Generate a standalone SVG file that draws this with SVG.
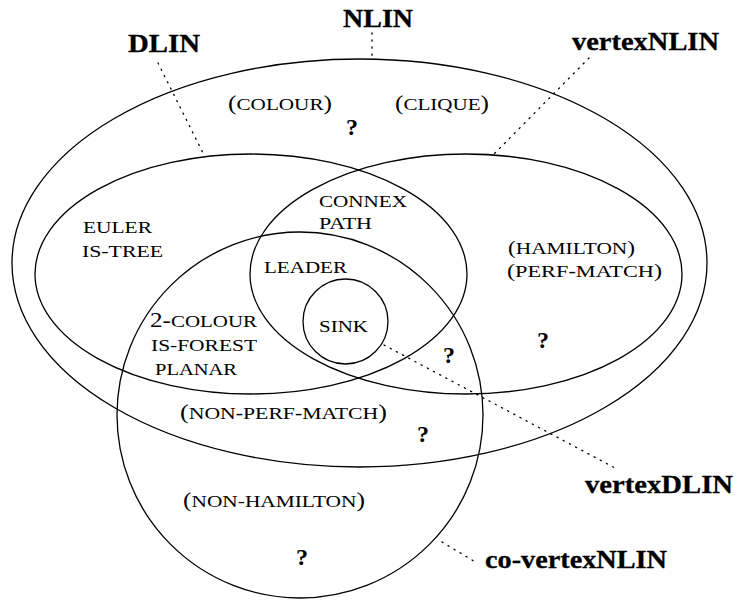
<svg xmlns="http://www.w3.org/2000/svg" width="735" height="600" viewBox="0 0 735 600">
<style>
  .set { fill: none; stroke: #000; stroke-width: 1.3; }
  .lead { fill: none; stroke: #000; stroke-width: 1.3; stroke-dasharray: 1.2 5.8; stroke-linecap: round; }
  .lab { font-family: "Liberation Serif", "Times New Roman", serif; font-weight: bold; font-size: 26px; fill: #000; stroke: #000; stroke-width: 0.3; }
  .sc { font-family: "Liberation Serif", "Times New Roman", serif; font-size: 17.5px; fill: #000; }
  .big { font-size: 21px; }
  .mid { font-size: 19px; }
  .q { font-family: "Liberation Serif", "Times New Roman", serif; font-weight: bold; font-size: 24px; fill: #000; text-anchor: middle; }
</style>
<rect width="735" height="600" fill="#fff"/>

<g id="NLIN">
  <ellipse class="set" cx="359.5" cy="263" rx="347.5" ry="204"/>
  <text class="lab" x="343" y="27" textLength="70" lengthAdjust="spacingAndGlyphs">NLIN</text>
  <text class="sc" x="228" y="110" textLength="104" lengthAdjust="spacingAndGlyphs"><tspan class="big">(</tspan>COLOUR<tspan class="big">)</tspan></text>
  <text class="sc" x="395" y="110" textLength="94" lengthAdjust="spacingAndGlyphs"><tspan class="big">(</tspan>CLIQUE<tspan class="big">)</tspan></text>
  <text class="q" x="352" y="135">?</text>
  <text class="sc" x="180" y="419" textLength="207" lengthAdjust="spacingAndGlyphs"><tspan class="big">(</tspan>NON<tspan font-weight="bold">-</tspan>PERF<tspan font-weight="bold">-</tspan>MATCH<tspan class="big">)</tspan></text>
  <text class="q" x="423" y="442">?</text>
</g>

<g id="DLIN">
  <ellipse class="set" cx="251" cy="274" rx="216" ry="120"/>
  <text class="lab" x="128" y="52" textLength="72" lengthAdjust="spacingAndGlyphs">DLIN</text>
  <text class="sc" x="83" y="233" textLength="69" lengthAdjust="spacingAndGlyphs">EULER</text>
  <text class="sc" x="82" y="257" textLength="81" lengthAdjust="spacingAndGlyphs">IS-TREE</text>
  <text class="sc" x="150" y="327" textLength="107" lengthAdjust="spacingAndGlyphs"><tspan class="big">2-</tspan>COLOUR</text>
  <text class="sc" x="151" y="351" textLength="106" lengthAdjust="spacingAndGlyphs">IS-FOREST</text>
  <text class="sc" x="155" y="375" textLength="82" lengthAdjust="spacingAndGlyphs">PLANAR</text>
</g>

<g id="vertexNLIN">
  <ellipse class="set" cx="466" cy="274" rx="216" ry="120"/>
  <text class="lab" x="572" y="50" textLength="147" lengthAdjust="spacingAndGlyphs">vertexNLIN</text>
  <text class="sc" x="508" y="254" textLength="127" lengthAdjust="spacingAndGlyphs"><tspan class="mid">(</tspan>HAMILTON<tspan class="mid">)</tspan></text>
  <text class="sc" x="507" y="277" textLength="155" lengthAdjust="spacingAndGlyphs"><tspan class="mid">(</tspan>PERF<tspan font-weight="bold">-</tspan>MATCH<tspan class="mid">)</tspan></text>
  <text class="q" x="543" y="348">?</text>
  <text class="q" x="449" y="363">?</text>
</g>

<g id="vertexDLIN">
  <text class="sc" x="319" y="207" textLength="88" lengthAdjust="spacingAndGlyphs">CONNEX</text>
  <text class="sc" x="319" y="229" textLength="53" lengthAdjust="spacingAndGlyphs">PATH</text>
  <text class="sc" x="264" y="273" textLength="83" lengthAdjust="spacingAndGlyphs">LEADER</text>
  <text class="lab" x="585" y="493" textLength="148" lengthAdjust="spacingAndGlyphs">vertexDLIN</text>
</g>

<g id="SINK">
  <circle class="set" cx="345.5" cy="321.5" r="42.5"/>
  <text class="sc" x="319" y="332" textLength="49" lengthAdjust="spacingAndGlyphs">SINK</text>
</g>

<g id="co-vertexNLIN">
  <circle class="set" cx="300" cy="415" r="183"/>
  <text class="lab" x="485" y="568" textLength="182" lengthAdjust="spacingAndGlyphs">co-vertexNLIN</text>
  <text class="sc" x="183" y="507" textLength="182" lengthAdjust="spacingAndGlyphs"><tspan class="big">(</tspan>NON-HAMILTON<tspan class="big">)</tspan></text>
  <text class="q" x="302" y="565">?</text>
</g>

<g id="connectors">
  <line class="lead" x1="372" y1="33" x2="372" y2="57"/>
  <line class="lead" x1="158" y1="63" x2="203" y2="153"/>
  <line class="lead" x1="589" y1="58" x2="494" y2="154"/>
  <line class="lead" x1="384" y1="345" x2="615" y2="468"/>
  <line class="lead" x1="442" y1="542" x2="477" y2="563"/>
</g>
</svg>
